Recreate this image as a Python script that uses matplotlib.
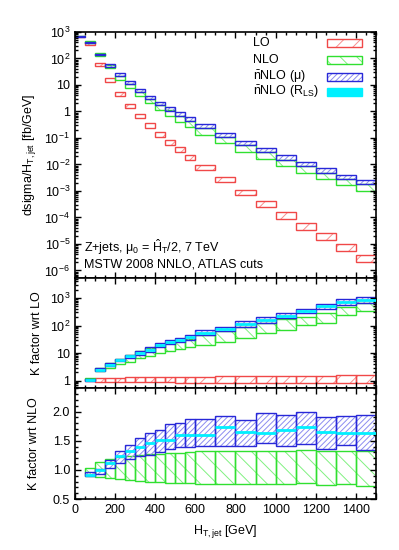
import matplotlib
matplotlib.use("Agg")
import matplotlib.pyplot as plt
import numpy as np
from matplotlib.patches import Rectangle
from matplotlib.ticker import FixedLocator, MultipleLocator, LogLocator, NullFormatter

plt.rcParams['font.family'] = ['Liberation Sans', 'DejaVu Sans']
plt.rcParams['mathtext.fontset'] = 'custom'
plt.rcParams['mathtext.rm'] = 'Liberation Sans'
plt.rcParams['mathtext.it'] = 'Liberation Sans:italic'
plt.rcParams['hatch.linewidth'] = 0.7
plt.rcParams['font.size'] = 9

# bin edges (GeV)
edges_top = [0, 50, 100, 150, 200, 250, 300, 350, 400, 450, 500, 550, 600,
             700, 800, 900, 1000, 1100, 1200, 1300, 1400, 1500]
edges_k = edges_top[1:]

# dsigma/dHT [fb/GeV] bands (low, high)
lo_low = [620, 330, 52, 13.2, 3.9, 1.39, 0.55, 0.234, 0.111, 0.055, 0.029, 0.0148,
          0.00625, 0.00208, 0.00068, 0.000247, 9.1e-5, 3.5e-5, 1.4e-5, 5.3e-6, 2.1e-6]
lo_high = [660, 410, 66, 17.5, 5.2, 1.97, 0.78, 0.35, 0.166, 0.083, 0.044, 0.0234,
           0.0096, 0.0033, 0.00111, 0.000415, 1.56e-4, 6.2e-5, 2.6e-5, 9.9e-6, 3.7e-6]
nlo_low = [680, 390, 125, 42, 15.6, 7.6, 3.7, 2.08, 1.1, 0.66, 0.39, 0.25,
           0.131, 0.062, 0.0285, 0.0156, 0.0088, 0.0047, 0.00278, 0.00166, 0.00098]
nlo_high = [720, 450, 160, 55, 22, 10.7, 5.55, 2.94, 1.75, 1.1, 0.70, 0.44,
            0.247, 0.111, 0.0555, 0.0285, 0.0152, 0.0088, 0.0049, 0.00294, 0.00176]
nnlo_low = [650, 395, 130, 49, 22, 10.4, 5.55, 2.94, 1.75, 1.07, 0.70, 0.44,
            0.247, 0.111, 0.0555, 0.0285, 0.0152, 0.0088, 0.0049, 0.00294, 0.00176]
nnlo_high = [690, 420, 145, 60, 27.8, 13.5, 6.98, 3.93, 2.34, 1.43, 0.93, 0.60,
             0.331, 0.156, 0.076, 0.0416, 0.0228, 0.0124, 0.0072, 0.00416, 0.00263]

# K factor wrt LO
klo_lo_low = [0.95, 0.93, 0.92, 0.91, 0.90, 0.89, 0.88, 0.87, 0.87, 0.86,
              0.86, 0.85, 0.85, 0.84, 0.84, 0.83, 0.83, 0.82, 0.82, 0.81]
klo_lo_high = [1.20, 1.25, 1.28, 1.30, 1.32, 1.34, 1.36, 1.38, 1.39, 1.40,
               1.41, 1.43, 1.45, 1.47, 1.49, 1.50, 1.52, 1.54, 1.56, 1.58]
klo_nlo_low = [1.05, 2.26, 2.9, 4.1, 4.8, 6.7, 7.9, 9.9, 12.4, 13.8,
               17.3, 20.4, 25.5, 35.6, 52.5, 69, 102, 128, 236, 347]
klo_nlo_high = [1.3, 3.0, 4.3, 6.0, 8.4, 11.7, 15.4, 18.2, 24.1, 28.4,
                33.6, 44.4, 62, 91.4, 128, 169, 211, 294, 459, 677]
klo_nnlo_low = [1.0, 2.2, 3.4, 5.1, 6.7, 8.9, 11.1, 16.3, 21.5, 25.5,
                30, 44.4, 62, 91.4, 128, 189, 279, 411, 543, 641]
klo_nnlo_high = [1.2, 2.8, 4.3, 6.3, 8.9, 11.7, 16.3, 24.1, 30, 35.6,
                 46.9, 69.3, 91.4, 143, 200, 279, 411, 607, 946, 1057]
klo_rls = [1.05, 2.4, 3.8, 5.6, 7.8, 10.2, 13.5, 19, 25, 30,
           38, 55, 75, 112, 160, 230, 340, 500, 730, 850]

# K factor wrt NLO
knlo_nlo_low = [0.90, 0.88, 0.86, 0.835, 0.82, 0.81, 0.80, 0.79, 0.78, 0.775,
                0.77, 0.76, 0.76, 0.76, 0.75, 0.76, 0.77, 0.74, 0.76, 0.725]
knlo_nlo_high = [1.03, 1.14, 1.18, 1.22, 1.24, 1.26, 1.27, 1.28, 1.285, 1.29,
                 1.30, 1.32, 1.32, 1.32, 1.33, 1.33, 1.345, 1.33, 1.32, 1.33]
knlo_nnlo_low = [0.90, 0.935, 1.04, 1.12, 1.19, 1.245, 1.26, 1.30, 1.35, 1.39,
                 1.40, 1.41, 1.41, 1.41, 1.46, 1.41, 1.45, 1.36, 1.43, 1.345]
knlo_nnlo_high = [0.97, 1.01, 1.17, 1.32, 1.425, 1.54, 1.63, 1.69, 1.78, 1.80,
                  1.874, 1.874, 1.93, 1.862, 1.98, 1.937, 2.0, 1.908, 1.925, 1.94]
knlo_rls = [0.91, 0.99, 1.126, 1.23, 1.33, 1.40, 1.47, 1.51, 1.52, 1.60,
            1.60, 1.60, 1.736, 1.65, 1.64, 1.69, 1.736, 1.655, 1.64, 1.63]

# (edge colour, hatch colour, hatch)
RED = ('#f04848', '#f89090', '//')
GREEN = ('#30e030', '#80f080', '\\\\')
BLUE = ('#2828d8', '#8c8cf0', '//////')
CYAN = '#00f0ff'


def bands(ax, edges, low, high, sty, lw=1.0):
    edge, hcol, hatch = sty
    e = np.array(edges, dtype=float)
    low = np.array(low)
    high = np.array(high)
    # hatch in a lighter shade, then the outline on top
    ax.bar(e[:-1], high - low, width=np.diff(e), bottom=low, align='edge',
           facecolor='none', edgecolor=hcol, hatch=hatch, linewidth=0)
    ax.bar(e[:-1], high - low, width=np.diff(e), bottom=low, align='edge',
           facecolor='none', edgecolor=edge, linewidth=lw)


def central(ax, edges, vals):
    e = np.array(edges, dtype=float)
    ax.hlines(vals, e[:-1], e[1:], colors=CYAN, linewidth=2.0, zorder=3)


def style(ax):
    ax.set_xlim(0, 1500)
    ax.tick_params(which='both', direction='in', top=True, right=True, width=1.0)
    ax.tick_params(which='major', length=4.5)
    ax.tick_params(which='minor', length=2.3)
    ax.xaxis.set_major_locator(MultipleLocator(200))
    ax.xaxis.set_minor_locator(MultipleLocator(50))
    for s in ax.spines.values():
        s.set_linewidth(1.2)


fig = plt.figure(figsize=(3.99, 5.5), dpi=100)
ax1 = fig.add_axes([0.188, 0.495, 0.754, 0.447])
ax2 = fig.add_axes([0.188, 0.295, 0.754, 0.200])
ax3 = fig.add_axes([0.188, 0.0927, 0.754, 0.2023])

# top panel
bands(ax1, edges_top, lo_low, lo_high, RED)
bands(ax1, edges_top, nlo_low, nlo_high, GREEN)
bands(ax1, edges_top, nnlo_low, nnlo_high, BLUE)
ax1.set_yscale('log')
ax1.set_ylim(5.3e-7, 1e3)
style(ax1)
dec = [1e-6, 1e-5, 1e-4, 1e-3, 1e-2, 1e-1, 1, 10, 1e2, 1e3]
declab = [r'10$^{-6}$', r'10$^{-5}$', r'10$^{-4}$', r'10$^{-3}$', r'10$^{-2}$',
          r'10$^{-1}$', '1', '10', r'10$^{2}$', r'10$^{3}$']
ax1.yaxis.set_major_locator(FixedLocator(dec))
ax1.set_yticklabels(declab)
ax1.yaxis.set_minor_locator(LogLocator(base=10, subs=np.arange(2, 10), numticks=30))
ax1.yaxis.set_minor_formatter(NullFormatter())
ax1.set_xticklabels([])
ax1.set_ylabel(r'dsigma/H$_{\rm T,jet}$ [fb/GeV]')
ax1.yaxis.set_label_coords(-0.122, 0.5)
ax1.text(0.03, 0.125, r'Z+jets, μ$_0$ = $\hat{\rm H}_{\rm T}$/2, 7 TeV',
         transform=ax1.transAxes, va='center')
ax1.text(0.03, 0.052, 'MSTW 2008 NNLO, ATLAS cuts', transform=ax1.transAxes, va='center')

# legend drawn by hand: text left-aligned, sample box to the right
leg = [('LO', RED, 0.953),
       ('NLO', GREEN, 0.885),
       (r'$\bar{\rm n}$NLO (μ)', BLUE, 0.817),
       (r'$\bar{\rm n}$NLO (R$_{\rm LS}$)', None, 0.755)]
for lab, sty, yy in leg:
    ax1.text(0.591, yy, lab, transform=ax1.transAxes, va='center', ha='left')
    if sty is None:
        ax1.add_patch(Rectangle((0.836, yy - 0.016), 0.118, 0.0325, transform=ax1.transAxes,
                                facecolor=CYAN, edgecolor=CYAN, linewidth=1.0))
    else:
        ax1.add_patch(Rectangle((0.836, yy - 0.016), 0.118, 0.0325, transform=ax1.transAxes,
                                facecolor='none', edgecolor=sty[1], hatch=sty[2], linewidth=0))
        ax1.add_patch(Rectangle((0.836, yy - 0.016), 0.118, 0.0325, transform=ax1.transAxes,
                                facecolor='none', edgecolor=sty[0], linewidth=1.0))

# middle panel
bands(ax2, edges_k, klo_lo_low, klo_lo_high, RED)
bands(ax2, edges_k, klo_nlo_low, klo_nlo_high, GREEN)
bands(ax2, edges_k, klo_nnlo_low, klo_nnlo_high, BLUE)
central(ax2, edges_k, klo_rls)
ax2.set_yscale('log')
ax2.set_ylim(0.56, 5400)
style(ax2)
ax2.yaxis.set_major_locator(FixedLocator([1, 10, 100, 1000]))
ax2.set_yticklabels(['1', '10', r'10$^{2}$', r'10$^{3}$'])
ax2.yaxis.set_minor_locator(LogLocator(base=10, subs=np.arange(2, 10), numticks=30))
ax2.yaxis.set_minor_formatter(NullFormatter())
ax2.set_xticklabels([])
ax2.set_ylabel('K factor wrt LO')
ax2.yaxis.set_label_coords(-0.105, 0.5)

# bottom panel
bands(ax3, edges_k, knlo_nlo_low, knlo_nlo_high, GREEN)
bands(ax3, edges_k, knlo_nnlo_low, knlo_nnlo_high, BLUE)
central(ax3, edges_k, knlo_rls)
ax3.set_ylim(0.5, 2.41)
style(ax3)
ax3.yaxis.set_major_locator(FixedLocator([0.5, 1.0, 1.5, 2.0]))
ax3.yaxis.set_major_formatter(matplotlib.ticker.FormatStrFormatter('%.1f'))
ax3.yaxis.set_minor_locator(MultipleLocator(0.1))
ax3.xaxis.set_major_locator(FixedLocator([0, 200, 400, 600, 800, 1000, 1200, 1400, 1500]))
ax3.set_xticklabels(['0', '200', '400', '600', '800', '1000', '1200', '1400', ''])
ax3.set_ylabel('K factor wrt NLO')
ax3.yaxis.set_label_coords(-0.115, 0.5)
ax3.set_xlabel(r'H$_{\rm T,jet}$ [GeV]')
ax3.xaxis.set_label_coords(0.5, -0.22)

fig.savefig('out.png', dpi=100)
